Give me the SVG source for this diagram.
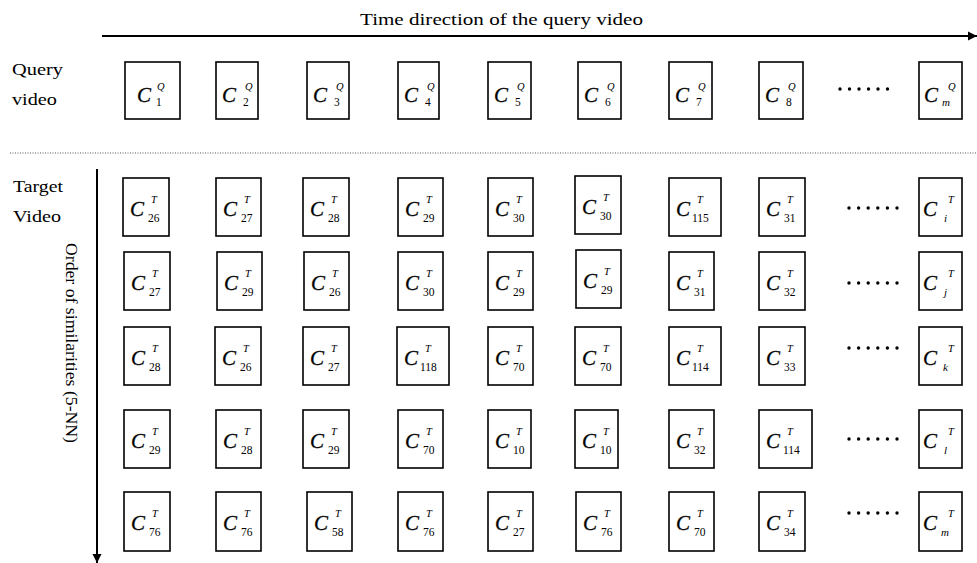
<svg xmlns="http://www.w3.org/2000/svg" width="977" height="563" viewBox="0 0 977 563">
  <defs>
    <style>
      .box { fill: #fff; stroke: #000; stroke-width: 1.6; }
      .lbl { font-family: "Liberation Serif", "Times New Roman", serif; font-size: 17px; fill: #000; }
      .c { font-family: "Liberation Serif", "Times New Roman", serif; font-size: 21px; font-style: italic; fill: #000; stroke: #000; stroke-width: 0.3; }
      .sup { font-family: "Liberation Serif", "Times New Roman", serif; font-size: 10.5px; font-style: italic; fill: #000; }
      .sub { font-family: "Liberation Serif", "Times New Roman", serif; font-size: 11.5px; fill: #000; }
      .subi { font-family: "Liberation Serif", "Times New Roman", serif; font-size: 11px; font-style: italic; fill: #000; }
      .dot { fill: #000; }
      .axis { stroke: #000; stroke-width: 2; fill: none; }
    </style>
    <marker id="head-r" viewBox="0 0 10 10" refX="10" refY="5" markerWidth="4.5" markerHeight="6" orient="auto" markerUnits="strokeWidth">
      <path d="M0,0 L10,5 L0,10 Z" fill="#000"/>
    </marker>
  </defs>

  <rect width="977" height="563" fill="#fff"/>

  <!-- headings -->
  <text class="lbl" x="360" y="25" textLength="283" lengthAdjust="spacingAndGlyphs">Time direction of the query video</text>
  <text class="lbl" x="12" y="75" textLength="51" lengthAdjust="spacingAndGlyphs">Query</text>
  <text class="lbl" x="12" y="105" textLength="45" lengthAdjust="spacingAndGlyphs">video</text>
  <text class="lbl" x="13" y="192" textLength="50" lengthAdjust="spacingAndGlyphs">Target</text>
  <text class="lbl" x="13" y="222" textLength="48" lengthAdjust="spacingAndGlyphs">Video</text>
  <text class="lbl" transform="translate(66,243) rotate(90)" x="0" y="0" font-size="18" textLength="200" lengthAdjust="spacingAndGlyphs">Order of similarities (5-NN)</text>

  <!-- separator between query and target -->
  <line x1="10" y1="153" x2="977" y2="153" stroke="#555" stroke-width="1" stroke-dasharray="1,1.5"/>

  <g id="connectors">
    <line class="axis" x1="102" y1="36" x2="977" y2="36" marker-end="url(#head-r)"/>
    <line class="axis" x1="97" y1="169" x2="97" y2="563" marker-end="url(#head-r)"/>
  </g>

  <!-- query video frames -->
  <g id="q1"><rect class="box" x="125" y="62" width="55" height="57"/><text class="c" x="137" y="102">C</text><text class="sup" x="157" y="90">Q</text><text class="sub" x="156" y="106">1</text></g>
  <g id="q2"><rect class="box" x="216" y="62" width="42" height="57"/><text class="c" x="222" y="102">C</text><text class="sup" x="245" y="90">Q</text><text class="sub" x="243" y="106">2</text></g>
  <g id="q3"><rect class="box" x="307" y="62" width="42" height="57"/><text class="c" x="313" y="102">C</text><text class="sup" x="336" y="90">Q</text><text class="sub" x="334" y="106">3</text></g>
  <g id="q4"><rect class="box" x="398" y="62" width="41" height="57"/><text class="c" x="404" y="102">C</text><text class="sup" x="427" y="90">Q</text><text class="sub" x="425" y="106">4</text></g>
  <g id="q5"><rect class="box" x="488" y="62" width="43" height="57"/><text class="c" x="494" y="102">C</text><text class="sup" x="517" y="90">Q</text><text class="sub" x="515" y="106">5</text></g>
  <g id="q6"><rect class="box" x="578" y="62" width="43" height="57"/><text class="c" x="584" y="102">C</text><text class="sup" x="607" y="90">Q</text><text class="sub" x="605" y="106">6</text></g>
  <g id="q7"><rect class="box" x="669" y="62" width="43" height="57"/><text class="c" x="675" y="102">C</text><text class="sup" x="698" y="90">Q</text><text class="sub" x="696" y="106">7</text></g>
  <g id="q8"><rect class="box" x="759" y="62" width="44" height="57"/><text class="c" x="765" y="102">C</text><text class="sup" x="788" y="90">Q</text><text class="sub" x="786" y="106">8</text></g>
  <g id="q-dots"><circle class="dot" cx="840" cy="89" r="1.7"/><circle class="dot" cx="849.5" cy="89" r="1.7"/><circle class="dot" cx="859" cy="89" r="1.7"/><circle class="dot" cx="868.5" cy="89" r="1.7"/><circle class="dot" cx="878" cy="89" r="1.7"/><circle class="dot" cx="887.5" cy="89" r="1.7"/></g>
  <g id="qm"><rect class="box" x="919" y="62" width="43" height="57"/><text class="c" x="924" y="102">C</text><text class="sup" x="948" y="90">Q</text><text class="subi" x="942" y="106">m</text></g>

  <!-- target rank 1 -->
  <g id="t1-1"><rect class="box" x="123" y="178" width="46" height="58"/><text class="c" x="130" y="216">C</text><text class="sup" x="151" y="203">T</text><text class="sub" x="148" y="222">26</text></g>
  <g id="t1-2"><rect class="box" x="216" y="178" width="45" height="58"/><text class="c" x="223" y="216">C</text><text class="sup" x="244" y="203">T</text><text class="sub" x="241" y="222">27</text></g>
  <g id="t1-3"><rect class="box" x="303" y="178" width="46" height="58"/><text class="c" x="310" y="216">C</text><text class="sup" x="331" y="203">T</text><text class="sub" x="328" y="222">28</text></g>
  <g id="t1-4"><rect class="box" x="398" y="178" width="45" height="58"/><text class="c" x="405" y="216">C</text><text class="sup" x="426" y="203">T</text><text class="sub" x="423" y="222">29</text></g>
  <g id="t1-5"><rect class="box" x="488" y="178" width="45" height="58"/><text class="c" x="495" y="216">C</text><text class="sup" x="516" y="203">T</text><text class="sub" x="513" y="222">30</text></g>
  <g id="t1-6"><rect class="box" x="575" y="176" width="46" height="58"/><text class="c" x="582" y="214">C</text><text class="sup" x="603" y="201">T</text><text class="sub" x="600" y="220">30</text></g>
  <g id="t1-7"><rect class="box" x="669" y="178" width="52" height="58"/><text class="c" x="676" y="216">C</text><text class="sup" x="697" y="203">T</text><text class="sub" x="692" y="222">115</text></g>
  <g id="t1-8"><rect class="box" x="759" y="178" width="46" height="58"/><text class="c" x="766" y="216">C</text><text class="sup" x="787" y="203">T</text><text class="sub" x="784" y="222">31</text></g>
  <g id="t1-dots"><circle class="dot" cx="849" cy="208" r="1.7"/><circle class="dot" cx="858.6" cy="208" r="1.7"/><circle class="dot" cx="868.2" cy="208" r="1.7"/><circle class="dot" cx="877.8" cy="208" r="1.7"/><circle class="dot" cx="887.4" cy="208" r="1.7"/><circle class="dot" cx="897" cy="208" r="1.7"/></g>
  <g id="t1-i"><rect class="box" x="919" y="178" width="43" height="58"/><text class="c" x="923" y="216">C</text><text class="sup" x="948" y="203">T</text><text class="subi" x="944" y="222">i</text></g>

  <!-- target rank 2 -->
  <g id="t2-1"><rect class="box" x="124" y="252" width="46" height="58"/><text class="c" x="131" y="290">C</text><text class="sup" x="152" y="277">T</text><text class="sub" x="149" y="296">27</text></g>
  <g id="t2-2"><rect class="box" x="217" y="252" width="45" height="58"/><text class="c" x="224" y="290">C</text><text class="sup" x="245" y="277">T</text><text class="sub" x="242" y="296">29</text></g>
  <g id="t2-3"><rect class="box" x="304" y="252" width="45" height="58"/><text class="c" x="311" y="290">C</text><text class="sup" x="332" y="277">T</text><text class="sub" x="329" y="296">26</text></g>
  <g id="t2-4"><rect class="box" x="398" y="252" width="45" height="58"/><text class="c" x="405" y="290">C</text><text class="sup" x="426" y="277">T</text><text class="sub" x="423" y="296">30</text></g>
  <g id="t2-5"><rect class="box" x="488" y="252" width="45" height="58"/><text class="c" x="495" y="290">C</text><text class="sup" x="516" y="277">T</text><text class="sub" x="513" y="296">29</text></g>
  <g id="t2-6"><rect class="box" x="576" y="250" width="45" height="58"/><text class="c" x="583" y="288">C</text><text class="sup" x="604" y="275">T</text><text class="sub" x="601" y="294">29</text></g>
  <g id="t2-7"><rect class="box" x="669" y="252" width="45" height="58"/><text class="c" x="676" y="290">C</text><text class="sup" x="697" y="277">T</text><text class="sub" x="694" y="296">31</text></g>
  <g id="t2-8"><rect class="box" x="759" y="252" width="46" height="58"/><text class="c" x="766" y="290">C</text><text class="sup" x="787" y="277">T</text><text class="sub" x="784" y="296">32</text></g>
  <g id="t2-dots"><circle class="dot" cx="849" cy="283" r="1.7"/><circle class="dot" cx="858.6" cy="283" r="1.7"/><circle class="dot" cx="868.2" cy="283" r="1.7"/><circle class="dot" cx="877.8" cy="283" r="1.7"/><circle class="dot" cx="887.4" cy="283" r="1.7"/><circle class="dot" cx="897" cy="283" r="1.7"/></g>
  <g id="t2-j"><rect class="box" x="919" y="252" width="43" height="58"/><text class="c" x="923" y="290">C</text><text class="sup" x="948" y="277">T</text><text class="subi" x="944" y="296">j</text></g>

  <!-- target rank 3 -->
  <g id="t3-1"><rect class="box" x="124" y="327" width="46" height="58"/><text class="c" x="131" y="365">C</text><text class="sup" x="152" y="352">T</text><text class="sub" x="149" y="371">28</text></g>
  <g id="t3-2"><rect class="box" x="215" y="327" width="46" height="58"/><text class="c" x="222" y="365">C</text><text class="sup" x="243" y="352">T</text><text class="sub" x="240" y="371">26</text></g>
  <g id="t3-3"><rect class="box" x="303" y="327" width="46" height="58"/><text class="c" x="310" y="365">C</text><text class="sup" x="331" y="352">T</text><text class="sub" x="328" y="371">27</text></g>
  <g id="t3-4"><rect class="box" x="397" y="327" width="52" height="58"/><text class="c" x="404" y="365">C</text><text class="sup" x="425" y="352">T</text><text class="sub" x="420" y="371">118</text></g>
  <g id="t3-5"><rect class="box" x="488" y="327" width="45" height="58"/><text class="c" x="495" y="365">C</text><text class="sup" x="516" y="352">T</text><text class="sub" x="513" y="371">70</text></g>
  <g id="t3-6"><rect class="box" x="575" y="327" width="46" height="58"/><text class="c" x="582" y="365">C</text><text class="sup" x="603" y="352">T</text><text class="sub" x="600" y="371">70</text></g>
  <g id="t3-7"><rect class="box" x="669" y="327" width="52" height="58"/><text class="c" x="676" y="365">C</text><text class="sup" x="697" y="352">T</text><text class="sub" x="692" y="371">114</text></g>
  <g id="t3-8"><rect class="box" x="759" y="327" width="46" height="58"/><text class="c" x="766" y="365">C</text><text class="sup" x="787" y="352">T</text><text class="sub" x="784" y="371">33</text></g>
  <g id="t3-dots"><circle class="dot" cx="849" cy="348" r="1.7"/><circle class="dot" cx="858.6" cy="348" r="1.7"/><circle class="dot" cx="868.2" cy="348" r="1.7"/><circle class="dot" cx="877.8" cy="348" r="1.7"/><circle class="dot" cx="887.4" cy="348" r="1.7"/><circle class="dot" cx="897" cy="348" r="1.7"/></g>
  <g id="t3-k"><rect class="box" x="919" y="327" width="43" height="58"/><text class="c" x="923" y="365">C</text><text class="sup" x="948" y="352">T</text><text class="subi" x="943" y="371">k</text></g>

  <!-- target rank 4 -->
  <g id="t4-1"><rect class="box" x="124" y="410" width="46" height="58"/><text class="c" x="131" y="448">C</text><text class="sup" x="152" y="435">T</text><text class="sub" x="149" y="454">29</text></g>
  <g id="t4-2"><rect class="box" x="216" y="410" width="45" height="58"/><text class="c" x="223" y="448">C</text><text class="sup" x="244" y="435">T</text><text class="sub" x="241" y="454">28</text></g>
  <g id="t4-3"><rect class="box" x="303" y="410" width="46" height="58"/><text class="c" x="310" y="448">C</text><text class="sup" x="331" y="435">T</text><text class="sub" x="328" y="454">29</text></g>
  <g id="t4-4"><rect class="box" x="398" y="410" width="45" height="58"/><text class="c" x="405" y="448">C</text><text class="sup" x="426" y="435">T</text><text class="sub" x="423" y="454">70</text></g>
  <g id="t4-5"><rect class="box" x="488" y="410" width="43" height="58"/><text class="c" x="495" y="448">C</text><text class="sup" x="516" y="435">T</text><text class="sub" x="513" y="454">10</text></g>
  <g id="t4-6"><rect class="box" x="575" y="410" width="43" height="58"/><text class="c" x="582" y="448">C</text><text class="sup" x="603" y="435">T</text><text class="sub" x="600" y="454">10</text></g>
  <g id="t4-7"><rect class="box" x="669" y="410" width="45" height="58"/><text class="c" x="676" y="448">C</text><text class="sup" x="697" y="435">T</text><text class="sub" x="694" y="454">32</text></g>
  <g id="t4-8"><rect class="box" x="759" y="410" width="53" height="58"/><text class="c" x="766" y="448">C</text><text class="sup" x="787" y="435">T</text><text class="sub" x="783" y="454">114</text></g>
  <g id="t4-dots"><circle class="dot" cx="849" cy="439" r="1.7"/><circle class="dot" cx="858.6" cy="439" r="1.7"/><circle class="dot" cx="868.2" cy="439" r="1.7"/><circle class="dot" cx="877.8" cy="439" r="1.7"/><circle class="dot" cx="887.4" cy="439" r="1.7"/><circle class="dot" cx="897" cy="439" r="1.7"/></g>
  <g id="t4-l"><rect class="box" x="919" y="410" width="43" height="58"/><text class="c" x="923" y="448">C</text><text class="sup" x="948" y="435">T</text><text class="subi" x="944" y="454">l</text></g>

  <!-- target rank 5 -->
  <g id="t5-1"><rect class="box" x="124" y="492" width="46" height="59"/><text class="c" x="131" y="530">C</text><text class="sup" x="152" y="517">T</text><text class="sub" x="149" y="536">76</text></g>
  <g id="t5-2"><rect class="box" x="216" y="492" width="45" height="59"/><text class="c" x="223" y="530">C</text><text class="sup" x="244" y="517">T</text><text class="sub" x="241" y="536">76</text></g>
  <g id="t5-3"><rect class="box" x="307" y="492" width="45" height="59"/><text class="c" x="314" y="530">C</text><text class="sup" x="335" y="517">T</text><text class="sub" x="332" y="536">58</text></g>
  <g id="t5-4"><rect class="box" x="398" y="492" width="45" height="59"/><text class="c" x="405" y="530">C</text><text class="sup" x="426" y="517">T</text><text class="sub" x="423" y="536">76</text></g>
  <g id="t5-5"><rect class="box" x="488" y="492" width="45" height="59"/><text class="c" x="495" y="530">C</text><text class="sup" x="516" y="517">T</text><text class="sub" x="513" y="536">27</text></g>
  <g id="t5-6"><rect class="box" x="576" y="492" width="45" height="59"/><text class="c" x="583" y="530">C</text><text class="sup" x="604" y="517">T</text><text class="sub" x="601" y="536">76</text></g>
  <g id="t5-7"><rect class="box" x="669" y="492" width="45" height="59"/><text class="c" x="676" y="530">C</text><text class="sup" x="697" y="517">T</text><text class="sub" x="694" y="536">70</text></g>
  <g id="t5-8"><rect class="box" x="759" y="492" width="46" height="59"/><text class="c" x="766" y="530">C</text><text class="sup" x="787" y="517">T</text><text class="sub" x="784" y="536">34</text></g>
  <g id="t5-dots"><circle class="dot" cx="849" cy="513" r="1.7"/><circle class="dot" cx="858.6" cy="513" r="1.7"/><circle class="dot" cx="868.2" cy="513" r="1.7"/><circle class="dot" cx="877.8" cy="513" r="1.7"/><circle class="dot" cx="887.4" cy="513" r="1.7"/><circle class="dot" cx="897" cy="513" r="1.7"/></g>
  <g id="t5-m"><rect class="box" x="919" y="492" width="43" height="59"/><text class="c" x="923" y="530">C</text><text class="sup" x="948" y="517">T</text><text class="subi" x="941" y="536">m</text></g>
</svg>
